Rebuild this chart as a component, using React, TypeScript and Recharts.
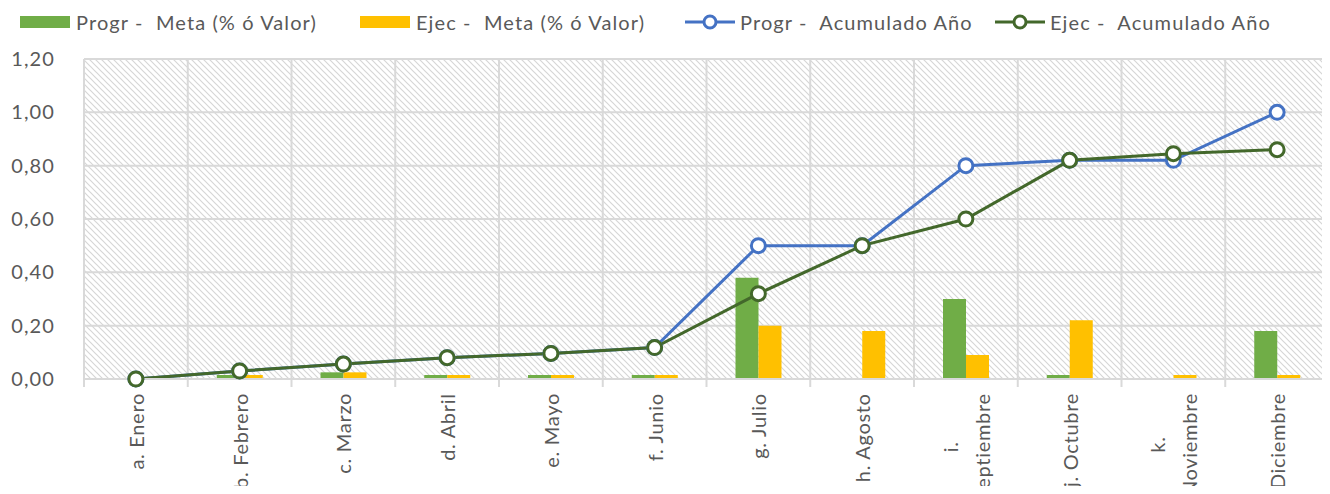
import React from "react";
import { ComposedChart, Bar, Line, XAxis, YAxis, CartesianGrid } from "recharts";

const months = [
  "a. Enero",
  "b. Febrero",
  "c. Marzo",
  "d. Abril",
  "e. Mayo",
  "f. Junio",
  "g. Julio",
  "h. Agosto",
  "i. Septiembre",
  "j. Octubre",
  "k. Noviembre",
  "l. Diciembre",
];
// how Excel wrapped the category labels
const monthLines = [
  ["a. Enero"],
  ["b. Febrero"],
  ["c. Marzo"],
  ["d. Abril"],
  ["e. Mayo"],
  ["f. Junio"],
  ["g. Julio"],
  ["h. Agosto"],
  ["i.", "Septiembre"],
  ["j. Octubre"],
  ["k.", "Noviembre"],
  ["l. Diciembre"],
];
const progrMeta = [0, 0.015, 0.025, 0.015, 0.015, 0.015, 0.38, 0, 0.3, 0.015, 0, 0.18];
const ejecMeta = [0, 0.015, 0.025, 0.015, 0.015, 0.015, 0.2, 0.18, 0.09, 0.22, 0.015, 0.015];
const progrAcum = [0, 0.03, 0.056, 0.08, 0.096, 0.118, 0.5, 0.5, 0.8, 0.82, 0.82, 1.0];
const ejecAcum = [0, 0.03, 0.056, 0.08, 0.096, 0.118, 0.32, 0.5, 0.6, 0.82, 0.845, 0.86];
const yTicks = [0, 0.2, 0.4, 0.6, 0.8, 1.0, 1.2];
const seriesNames = [
  "Progr -  Meta (% ó Valor)",
  "Ejec -  Meta (% ó Valor)",
  "Progr -  Acumulado Año",
  "Ejec -  Acumulado Año",
];

const colors = {
  progrBar: "#70AD47",
  ejecBar: "#FFC000",
  progrLine: "#4472C4",
  ejecLine: "#43682B",
  grid: "#d9d9d9",
  text: "#595959",
};
const FONT = "Lato, 'Open Sans', sans-serif";
const FS = 20;
const LS = 1.1; // letter spacing, the Excel text is spread out
const LS_ROT = 0.7;

const data = months.map((month, i) => ({
  month,
  progrMeta: progrMeta[i],
  ejecMeta: ejecMeta[i],
  progrAcum: progrAcum[i],
  ejecAcum: ejecAcum[i],
}));

let ctx: CanvasRenderingContext2D | null = null;
function textWidth(s: string) {
  if (!ctx) ctx = document.createElement("canvas").getContext("2d");
  if (!ctx) return s.length * (FS * 0.5 + LS_ROT);
  ctx.font = `${FS}px Lato`;
  return ctx.measureText(s).width + s.length * LS_ROT;
}

function MonthTick(props: any) {
  const { x, y, payload, width } = props;
  const idx = months.indexOf(payload.value);
  const lines = monthLines[idx] ?? [payload.value];
  const longest = Math.max(...lines.map(textWidth));
  const mid = y + longest / 2;
  const band = width / months.length;
  const axisY = y - 14;
  // Excel puts the tick marks between the categories
  const marks = idx === months.length - 1 ? [x - band / 2, x + band / 2] : [x - band / 2];
  return (
    <g>
      {marks.map((mx) => (
        <line key={mx} x1={mx} x2={mx} y1={axisY} y2={axisY + 8} stroke={colors.grid} strokeWidth={2} />
      ))}
      {lines.map((line: string, i: number) => {
        const lx = x + (i - (lines.length - 1) / 2) * 32;
        return (
          <text
            key={line}
            x={lx}
            y={mid}
            transform={`rotate(-90, ${lx}, ${mid})`}
            textAnchor="middle"
            dominantBaseline="central"
            fill={colors.text}
            fontSize={FS}
            fontFamily={FONT}
            letterSpacing={LS_ROT}
          >
            {line}
          </text>
        );
      })}
    </g>
  );
}

const fmt = (v: number) => v.toFixed(2).replace(".", ",");

// vertical grid lines sit on the category boundaries
const boundaryLines = ({ offset }: any) =>
  Array.from({ length: months.length + 1 }, (_, i) => offset.left + (i * offset.width) / months.length);

function LegendBox() {
  const lefts = [20, 360, 684, 994];
  return (
    <>
      {seriesNames.map((name, i) => (
        <div
          key={name}
          style={{
            position: "absolute",
            left: lefts[i],
            top: 8,
            height: 28,
            display: "flex",
            alignItems: "center",
            fontFamily: FONT,
            fontSize: FS,
            letterSpacing: LS,
            color: colors.text,
            whiteSpace: "pre",
          }}
        >
          {i < 2 ? (
            <span
              style={{
                display: "inline-block",
                width: 50,
                height: 12,
                background: i === 0 ? colors.progrBar : colors.ejecBar,
                marginRight: 6,
              }}
            />
          ) : (
            <svg width={52} height={20} style={{ marginRight: 4 }}>
              <line
                x1={1}
                y1={10}
                x2={51}
                y2={10}
                stroke={i === 2 ? colors.progrLine : colors.ejecLine}
                strokeWidth={3}
              />
              <circle
                cx={26}
                cy={10}
                r={6}
                fill="#fff"
                stroke={i === 2 ? colors.progrLine : colors.ejecLine}
                strokeWidth={3}
              />
            </svg>
          )}
          {name}
        </div>
      ))}
    </>
  );
}

export default function App() {
  return (
    <div style={{ position: "relative", width: 1330, height: 494, margin: -8, overflow: "hidden", background: "#fff" }}>
      <LegendBox />
      <ComposedChart
        width={1330}
        height={494}
        data={data}
        margin={{ top: 59, right: 1, bottom: 0, left: 0 }}
        barGap={0}
        barSize={23}
      >
        <defs>
          <pattern id="hatch" patternUnits="userSpaceOnUse" width={6} height={6}>
            <path d="M0,0 L6,6 M-1,5 L1,7 M5,-1 L7,1" stroke="#d6d6d6" strokeWidth={1.2} />
          </pattern>
        </defs>
        <CartesianGrid
          fill="url(#hatch)"
          stroke={colors.grid}
          strokeWidth={2}
          verticalCoordinatesGenerator={boundaryLines}
        />
        <XAxis
          dataKey="month"
          interval={0}
          tick={<MonthTick />}
          tickLine={false}
          tickSize={0}
          tickMargin={14}
          axisLine={{ stroke: colors.grid, strokeWidth: 2 }}
          height={115}
        />
        <YAxis
          domain={[0, 1.2]}
          ticks={yTicks}
          tickFormatter={fmt}
          axisLine={false}
          tickLine={false}
          tickSize={0}
          tickMargin={29}
          width={84}
          tick={{ fill: colors.text, fontSize: FS, fontFamily: FONT, letterSpacing: LS }}
        />
        <Bar dataKey="progrMeta" name={seriesNames[0]} fill={colors.progrBar} isAnimationActive={false} />
        <Bar dataKey="ejecMeta" name={seriesNames[1]} fill={colors.ejecBar} isAnimationActive={false} />
        <Line
          dataKey="progrAcum"
          name={seriesNames[2]}
          stroke={colors.progrLine}
          strokeWidth={3}
          dot={{ r: 7, fill: "#fff", stroke: colors.progrLine, strokeWidth: 3 }}
          isAnimationActive={false}
        />
        <Line
          dataKey="ejecAcum"
          name={seriesNames[3]}
          stroke={colors.ejecLine}
          strokeWidth={3}
          dot={{ r: 7, fill: "#fff", stroke: colors.ejecLine, strokeWidth: 3 }}
          isAnimationActive={false}
        />
      </ComposedChart>
    </div>
  );
}
